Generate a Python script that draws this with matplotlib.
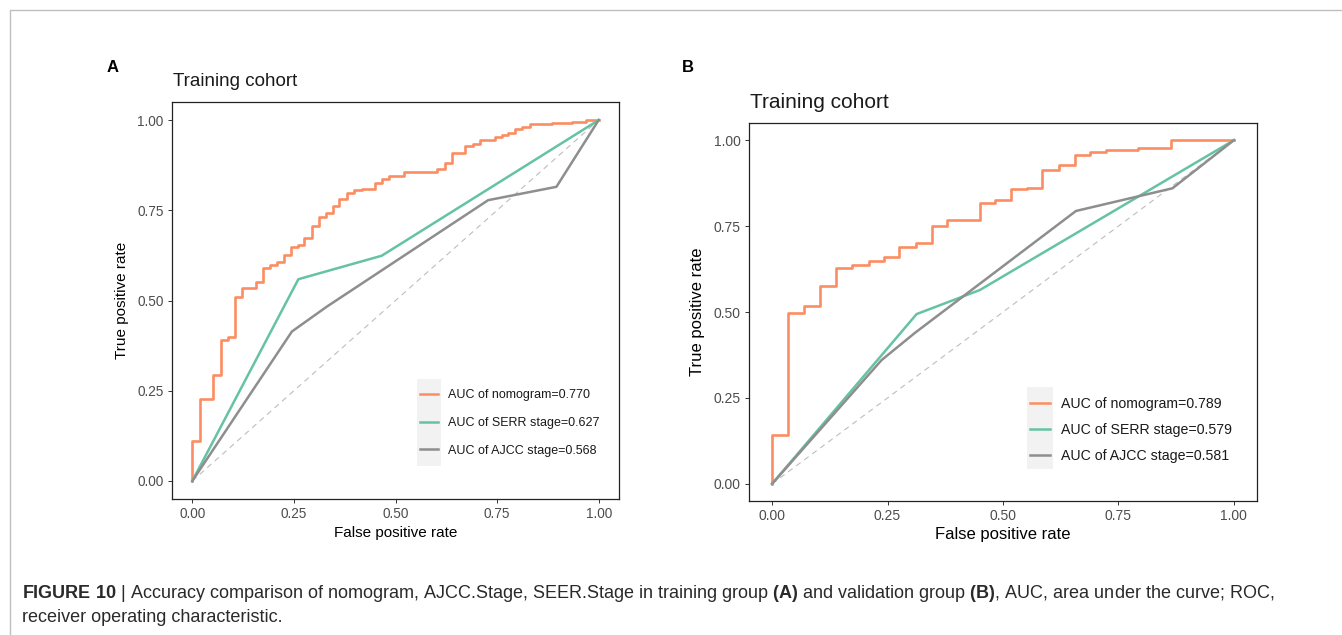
import matplotlib
matplotlib.use('Agg')
import matplotlib.pyplot as plt
from matplotlib.patches import Rectangle
from matplotlib.lines import Line2D

plt.rcParams['font.family'] = ['Liberation Sans', 'DejaVu Sans']
plt.rcParams['mathtext.fontset'] = 'custom'
plt.rcParams['mathtext.rm'] = 'Liberation Sans'
plt.rcParams['mathtext.bf'] = 'Liberation Sans:bold'

# -- Panel A (training cohort) -- #
a_nomo_fpr = [0.0, 0.02, 0.052, 0.07, 0.088, 0.106, 0.122, 0.157, 0.174, 0.192, 0.208, 0.226,
              0.243, 0.261, 0.276, 0.294, 0.312, 0.329, 0.346, 0.362, 0.38, 0.398, 0.417, 0.45,
              0.466, 0.485, 0.521, 0.603, 0.622, 0.64, 0.672, 0.69, 0.708, 0.744, 0.761, 0.777,
              0.794, 0.812, 0.83, 0.884, 0.934, 0.97, 1.0]
a_nomo_tpr = [0.0, 0.11, 0.226, 0.294, 0.39, 0.40, 0.51, 0.535, 0.552, 0.589, 0.598, 0.607,
              0.626, 0.649, 0.655, 0.672, 0.706, 0.732, 0.743, 0.762, 0.780, 0.799, 0.806, 0.81,
              0.825, 0.836, 0.846, 0.857, 0.863, 0.882, 0.908, 0.928, 0.935, 0.946, 0.952, 0.958,
              0.963, 0.975, 0.981, 0.988, 0.991, 0.995, 1.0]
a_seer_fpr = [0.0, 0.261, 0.466, 1.0]
a_seer_tpr = [0.0, 0.559, 0.624, 1.0]
a_ajcc_fpr = [0.0, 0.245, 0.331, 0.728, 0.896, 1.0]
a_ajcc_tpr = [0.0, 0.414, 0.483, 0.778, 0.815, 1.0]
a_labels = ['AUC of nomogram=0.770', 'AUC of SERR stage=0.627', 'AUC of AJCC stage=0.568']

# -- Panel B -- #
b_nomo_fpr = [0.0, 0.035, 0.07, 0.104, 0.139, 0.172, 0.209, 0.243, 0.275, 0.312, 0.346, 0.378,
              0.45, 0.483, 0.517, 0.553, 0.585, 0.621, 0.656, 0.688, 0.724, 0.793, 0.863, 1.0]
b_nomo_tpr = [0.0, 0.142, 0.496, 0.517, 0.576, 0.627, 0.637, 0.648, 0.661, 0.69, 0.701, 0.751,
              0.769, 0.818, 0.826, 0.857, 0.862, 0.913, 0.927, 0.958, 0.966, 0.971, 0.976, 1.0]
b_seer_fpr = [0.0, 0.313, 0.45, 1.0]
b_seer_tpr = [0.0, 0.494, 0.564, 1.0]
b_ajcc_fpr = [0.0, 0.237, 0.31, 0.658, 0.867, 1.0]
b_ajcc_tpr = [0.0, 0.36, 0.44, 0.794, 0.86, 1.0]
b_labels = ['AUC of nomogram=0.789', 'AUC of SERR stage=0.579', 'AUC of AJCC stage=0.581']

ticks = [0.0, 0.25, 0.5, 0.75, 1.0]
tick_labels = ['0.00', '0.25', '0.50', '0.75', '1.00']

ORANGE = '#FC8D62'
GREEN = '#66C2A5'
GREY = '#8E8E8E'

W, H = 1342, 635
fig = plt.figure(figsize=(W / 100, H / 100), dpi=100)


def box(l, t, r, b):
    return [l / W, 1 - b / H, (r - l) / W, (b - t) / H]


def roc_panel(rect, nomo, seer, ajcc, labels, fs, leg):
    ax = fig.add_axes(rect)
    ax.plot([0, 1], [0, 1], color='#BDBDBD', lw=0.8, dashes=(5, 4))
    ax.plot(nomo[0], nomo[1], color=ORANGE, lw=1.9, drawstyle='steps-pre')
    ax.plot(seer[0], seer[1], color=GREEN, lw=1.8)
    ax.plot(ajcc[0], ajcc[1], color=GREY, lw=1.8)
    ax.set_xlim(-0.05, 1.05)
    ax.set_ylim(-0.05, 1.05)
    ax.set_xticks(ticks)
    ax.set_xticklabels(tick_labels)
    ax.set_yticks(ticks)
    ax.set_yticklabels(tick_labels)
    ax.tick_params(length=3, width=0.7, color='#333333', labelcolor='#4D4D4D',
                   labelsize=fs['tick'], pad=3)
    for s in ax.spines.values():
        s.set_linewidth(0.9)
        s.set_color('#222222')
    ax.set_xlabel('False positive rate', fontsize=fs['lab'], labelpad=fs['xpad'])
    ax.set_ylabel('True positive rate', fontsize=fs['lab'], labelpad=fs['ypad'])

    # grey key background like ggplot legend.key
    ax.add_patch(Rectangle(leg['rect'][:2], leg['rect'][2], leg['rect'][3],
                           transform=ax.transAxes, facecolor='#F2F2F2', edgecolor='none', zorder=3))
    handles = [Line2D([], [], color=c, lw=1.8) for c in (ORANGE, GREEN, GREY)]
    lg = ax.legend(handles, labels, loc='center left', bbox_to_anchor=leg['anchor'],
                   frameon=False, fontsize=fs['leg'], handlelength=leg['hl'],
                   handletextpad=leg['htp'], labelspacing=leg['ls'],
                   borderpad=0, borderaxespad=0)
    lg.set_zorder(4)
    for t in lg.get_texts():
        t.set_color('#1A1A1A')
    return ax


ax_a = roc_panel(box(172, 102, 619, 499), (a_nomo_fpr, a_nomo_tpr), (a_seer_fpr, a_seer_tpr),
                 (a_ajcc_fpr, a_ajcc_tpr), a_labels,
                 {'tick': 9.8, 'lab': 11, 'leg': 9, 'xpad': 3, 'ypad': 6},
                 {'rect': (0.548, 0.083, 0.054, 0.219), 'anchor': (0.5548, 0.1914),
                  'hl': 1.45, 'htp': 0.8, 'ls': 1.25})
ax_b = roc_panel(box(749, 123, 1257, 501), (b_nomo_fpr, b_nomo_tpr), (b_seer_fpr, b_seer_tpr),
                 (b_ajcc_fpr, b_ajcc_tpr), b_labels,
                 {'tick': 10, 'lab': 12, 'leg': 10.2, 'xpad': 3, 'ypad': 6},
                 {'rect': (0.547, 0.085, 0.051, 0.217), 'anchor': (0.553, 0.188),
                  'hl': 1.45, 'htp': 0.75, 'ls': 0.85})

fig.text(173 / W, 1 - 82 / H, 'Training cohort', fontsize=13.5, va='center', ha='left', color='#1A1A1A')
fig.text(750 / W, 1 - 102 / H, 'Training cohort', fontsize=15, va='center', ha='left', color='#1A1A1A')
fig.text(107 / W, 1 - 67 / H, 'A', fontsize=12, fontweight='bold', va='center')
fig.text(682 / W, 1 - 67 / H, 'B', fontsize=12, fontweight='bold', va='center')

# caption
fig.text(22 / W, 1 - 594 / H,
         r'$\mathbf{FIGURE\ 10}$ | Accuracy comparison of nomogram, AJCC.Stage, SEER.Stage in training group '
         r'$\mathbf{(A)}$ and validation group $\mathbf{(B)}$, AUC, area under the curve; ROC,',
         fontsize=13, va='center', ha='left', color='#2A2A2A')
fig.text(22 / W, 1 - 618 / H, 'receiver operating characteristic.',
         fontsize=13, va='center', ha='left', color='#2A2A2A')

# page frame (top and left edges)
fig.add_artist(Line2D([10 / W, 10 / W, 1.0], [0.0, 1 - 10 / H, 1 - 10 / H],
                      transform=fig.transFigure, color='#BFBFBF', lw=1))

fig.savefig('out.png', dpi=100)
